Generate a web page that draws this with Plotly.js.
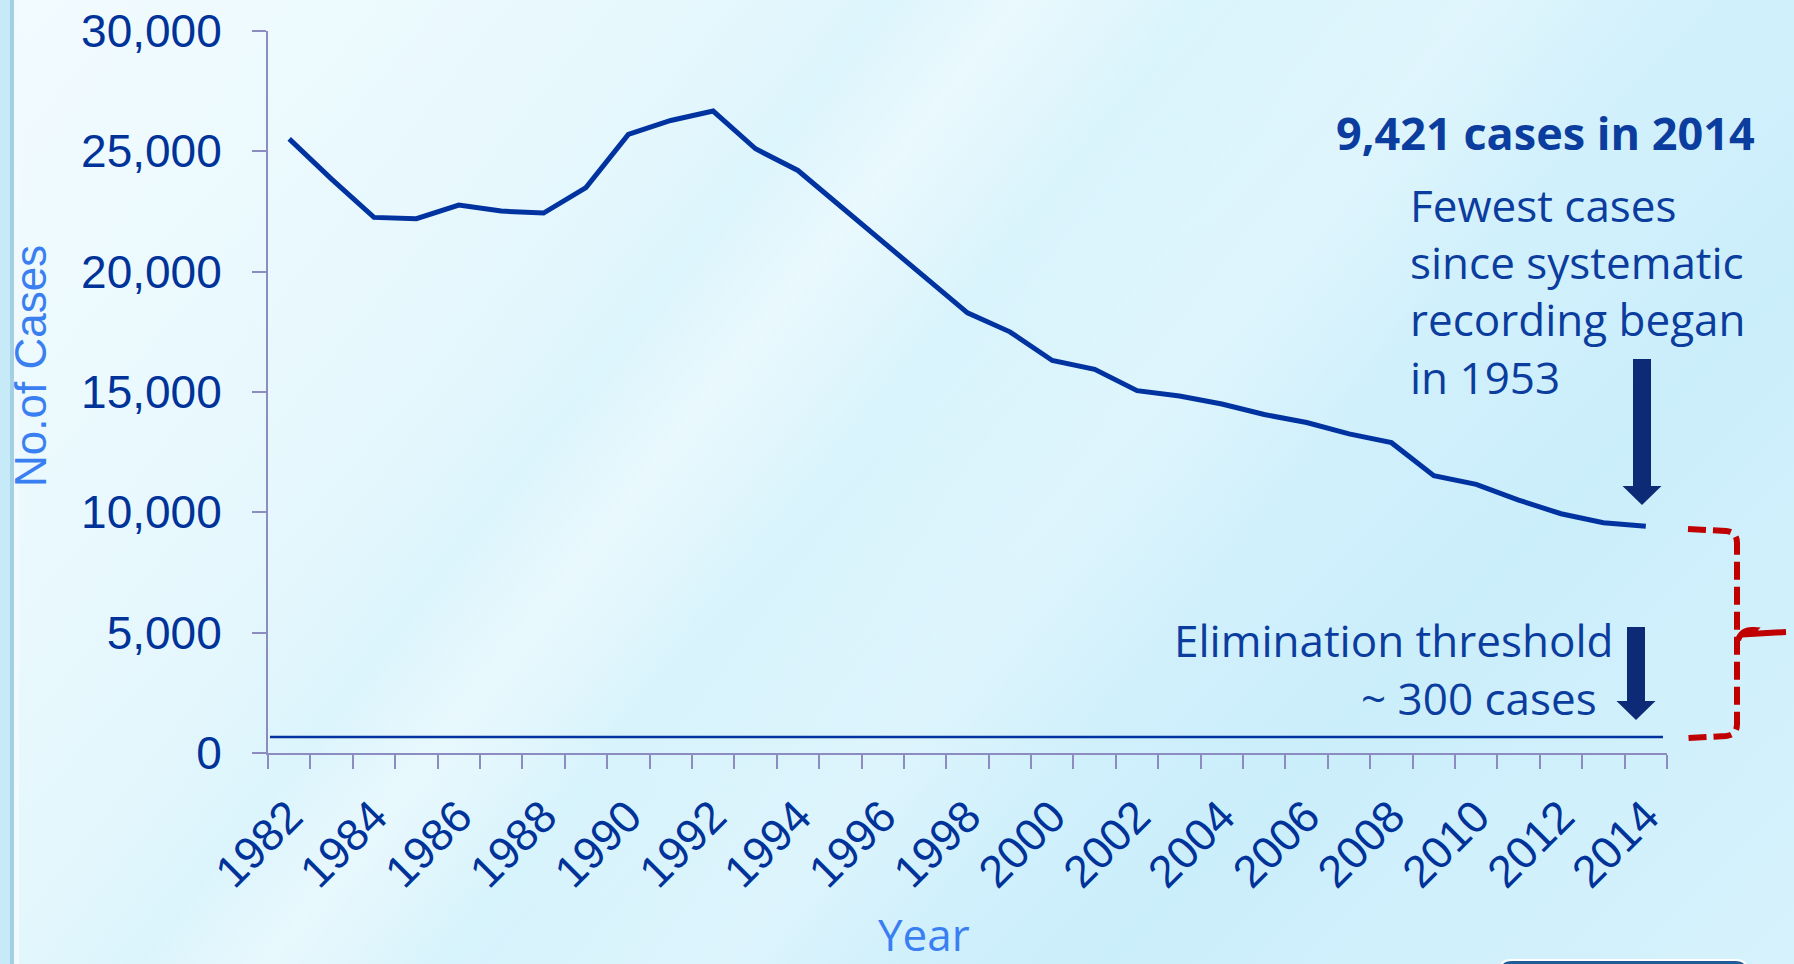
<!DOCTYPE html>
<html>
<head>
<meta charset="utf-8">
<script src="https://cdn.plot.ly/plotly-3.0.1.min.js"></script>
<style>
html,body{margin:0;padding:0;overflow:hidden;background:#dff5fc;}
#chart{width:1794px;height:964px;
background:
 linear-gradient(128deg, rgba(255,255,255,0.5) 0%, rgba(255,255,255,0.2) 28%, rgba(255,255,255,0.0) 35%, rgba(255,255,255,0.38) 40%, rgba(255,255,255,0) 47%, rgba(255,255,255,0.24) 58%, rgba(255,255,255,0) 66%),
 linear-gradient(135deg, #e6f8fd 0%, #daf4fc 45%, #cbeefb 75%, #d6f2fc 100%);}
</style>
</head>
<body>
<div id="chart"></div>
<script>
// ---- data ----
const years = [1982,1983,1984,1985,1986,1987,1988,1989,1990,1991,1992,1993,1994,1995,1996,1997,1998,
               1999,2000,2001,2002,2003,2004,2005,2006,2007,2008,2009,2010,2011,2012,2013,2014];
const cases = [25520,23846,22255,22201,22768,22517,22436,23495,25701,26283,26673,25107,24205,22727,21210,19751,18287,
               17500,16308,15945,15055,14836,14500,14064,13732,13258,12895,11523,11161,10510,9941,9565,9421];
const yearLabels = [1982,1984,1986,1988,1990,1992,1994,1996,1998,2000,2002,2004,2006,2008,2010,2012,2014];
const yTicks = [0,5000,10000,15000,20000,25000,30000];
const thresholdLine = 660;

// ---- geometry (pixels) ----
const W = 1794, H = 964;
const L = 268, R = 1667, T = 31, B = 753;
const PW = R - L, PH = B - T;
const px = x => (x - L) / PW;
const py = y => (B - y) / PH;

const AXIS = '#8c8cc0';
const TICKTXT = '#003399';
const LINE = '#0033a0';
const TXT = '#0b3d9f';
const NAVY = '#0c2a76';
const RED = '#c00000';

function P(x, y) { return px(x).toFixed(5) + ',' + py(y).toFixed(5); }
function arrowPath(cx, top, headTop, tip, sw, hw) {
  return 'M' + P(cx - sw, top) + ' L' + P(cx + sw, top) + ' L' + P(cx + sw, headTop) +
         ' L' + P(cx + hw, headTop) + ' L' + P(cx, tip) + ' L' + P(cx - hw, headTop) +
         ' L' + P(cx - sw, headTop) + ' Z';
}
function rectPath(x0, y0, x1, y1) {
  return 'M' + P(x0, y0) + ' L' + P(x1, y0) + ' L' + P(x1, y1) + ' L' + P(x0, y1) + ' Z';
}

const shapes = [
  // left frame strip
  {type:'path', xref:'paper', yref:'paper', path: rectPath(0, 0, 10, H), fillcolor:'#c6eaf8', line:{width:0}, layer:'below'},
  {type:'path', xref:'paper', yref:'paper', path: rectPath(10, 0, 14, H), fillcolor:'#a2d1e5', line:{width:0}, layer:'below'},
  {type:'path', xref:'paper', yref:'paper', path: rectPath(14, 0, 19, H), fillcolor:'#f1fbff', line:{width:0}, layer:'below'},
  // threshold line
  {type:'line', xref:'paper', yref:'y', x0: px(270), x1: px(1663), y0: thresholdLine, y1: thresholdLine,
   line:{color: LINE, width: 2.5}},
  // arrows
  {type:'path', xref:'paper', yref:'paper', path: arrowPath(1642, 359, 486, 505, 9, 19.5), fillcolor: NAVY, line:{width:0}},
  {type:'path', xref:'paper', yref:'paper', path: arrowPath(1636, 627, 701, 720, 9, 19.5), fillcolor: NAVY, line:{width:0}},
  // red dashed bracket
  {type:'path', xref:'paper', yref:'paper',
   path: 'M' + P(1688, 529) + ' L' + P(1726, 531) + ' Q' + P(1737, 532) + ' ' + P(1737, 543) +
         ' L' + P(1737, 724) + ' Q' + P(1737, 735) + ' ' + P(1726, 736) + ' L' + P(1688, 738),
   line:{color: RED, width: 6, dash: '18px,7px'}},
  {type:'path', xref:'paper', yref:'paper',
   path: 'M' + P(1738, 640) + ' Q' + P(1742, 629) + ' ' + P(1754, 630) + ' L' + P(1750, 634) + ' L' + P(1786, 632),
   line:{color: RED, width: 6}},
  // bottom-right button edge
  {type:'path', xref:'paper', yref:'paper',
   path: 'M' + P(1500, 975) + ' L' + P(1500, 970) + ' Q' + P(1500, 960) + ' ' + P(1512, 960) +
         ' L' + P(1735, 960) + ' Q' + P(1747, 960) + ' ' + P(1747, 970) + ' L' + P(1747, 975) + ' Z',
   fillcolor:'#1e5c98', line:{color:'#ffffff', width:2}}
];

const annFont = 'Open Sans, Noto Sans, sans-serif';
const annotations = [
  {xref:'paper', yref:'paper', x: px(1757), y: py(132), xanchor:'right', yanchor:'middle', showarrow:false,
   text:'<b>9,421 cases in 2014</b>', font:{family: annFont, size: 45, color: TXT}},
  {xref:'paper', yref:'paper', x: px(1408), y: py(291), xanchor:'left', yanchor:'middle', align:'left', showarrow:false,
   text:'Fewest cases<br>since systematic<br>recording began<br>in 1953', font:{family: annFont, size: 44, color: TXT}},
  {xref:'paper', yref:'paper', x: px(1615), y: py(640), xanchor:'right', yanchor:'middle', showarrow:false,
   text:'Elimination threshold', font:{family: annFont, size: 44, color: TXT}},
  {xref:'paper', yref:'paper', x: px(1599), y: py(698), xanchor:'right', yanchor:'middle', showarrow:false,
   text:'~ 300 cases', font:{family: annFont, size: 44, color: TXT}},
  // axis titles
  {xref:'paper', yref:'paper', x: px(30), y: py(366), xanchor:'center', yanchor:'middle', textangle:-90, showarrow:false,
   text:'No.of Cases', font:{family:'Liberation Sans, Arial, sans-serif', size: 44, color:'#3a7ff2'}},
  {xref:'paper', yref:'paper', x: px(924), y: py(934), xanchor:'center', yanchor:'middle', showarrow:false,
   text:'Year', font:{family: annFont, size: 44, color:'#3a7ff2'}}
];

const trace = {
  x: years, y: cases, type:'scatter', mode:'lines',
  line:{color: LINE, width: 5}, hoverinfo:'x+y', showlegend:false
};

const layout = {
  width: W, height: H, autosize:false,
  margin:{l: L, r: W - R, t: T, b: H - B, pad: 0},
  paper_bgcolor:'rgba(0,0,0,0)', plot_bgcolor:'rgba(0,0,0,0)',
  showlegend:false,
  xaxis:{
    type:'linear', range:[1981.5, 2014.5], tickmode:'array',
    tickvals: yearLabels, ticktext: yearLabels.map(String), tickangle:-45,
    ticks:'', showline:true, linecolor: AXIS, linewidth:2, showgrid:false, zeroline:false,
    tickfont:{family:'Liberation Sans, Arial, sans-serif', size:45, color: TICKTXT},
    ticklabelstandoff: 17,
    minor:{tick0:1981.5, dtick:1, ticks:'outside', ticklen:14, tickwidth:2, tickcolor: AXIS, showgrid:false},
    fixedrange:true
  },
  yaxis:{
    range:[0, 30000], tickmode:'array', tickvals: yTicks, tickformat:',d',
    ticks:'outside', ticklen:14, tickwidth:2, tickcolor: AXIS,
    showline:true, linecolor: AXIS, linewidth:2, showgrid:false, zeroline:false,
    tickfont:{family:'Liberation Sans, Arial, sans-serif', size:46, color: TICKTXT},
    ticklabelstandoff: 21, fixedrange:true
  },
  shapes: shapes,
  annotations: annotations
};

Plotly.newPlot('chart', [trace], layout, {displayModeBar:false, staticPlot:true});
</script>
</body>
</html>
